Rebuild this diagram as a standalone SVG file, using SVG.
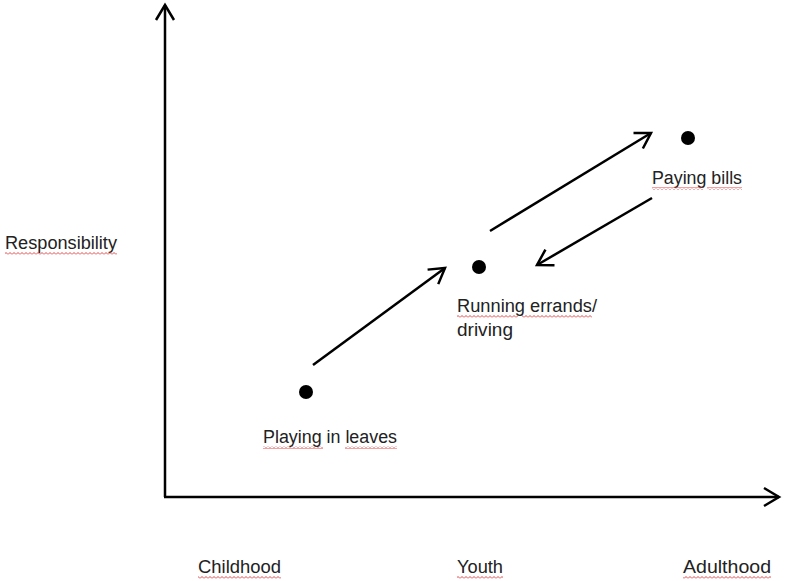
<svg xmlns="http://www.w3.org/2000/svg" width="785" height="581" viewBox="0 0 785 581">
<style>
.t{font-family:"Liberation Sans",Arial,sans-serif;font-size:18px;fill:#222}
.ln{stroke:#000;stroke-width:2.5;fill:none}
.sq{fill:url(#zig)}
</style>
<defs>
<pattern id="zig" patternUnits="userSpaceOnUse" width="4" height="3">
<path d="M0,2.5 L2,0.5 L4,2.5" stroke="#d33" stroke-width="0.9" fill="none"/>
</pattern>
<marker id="ah" markerUnits="userSpaceOnUse" markerWidth="24" markerHeight="24" viewBox="-18 -12 24 24" refX="0" refY="0" orient="auto" overflow="visible">
<path d="M-15,-9 L0,0 L-15,9" fill="none" stroke="#000" stroke-width="2.5"/>
</marker>
</defs>
<rect width="785" height="581" fill="#fff"/>
<g id="axes">
<path class="ln" d="M165,497 L165,5" marker-end="url(#ah)"/>
<path class="ln" d="M164,497 L779,497" marker-end="url(#ah)"/>
</g>
<g id="connectors">
<path class="ln" d="M313,365 L445,268" marker-end="url(#ah)"/>
<path class="ln" d="M490,231 L651,133" marker-end="url(#ah)"/>
<path class="ln" d="M652,198 L537,265" marker-end="url(#ah)"/>
</g>
<g id="node-childhood-point">
<circle cx="306" cy="392" r="7" fill="#000"/>
<text class="t" x="263" y="443" textLength="134" lengthAdjust="spacingAndGlyphs">Playing in leaves</text>
<rect class="sq" x="263" y="446" width="60" height="3"/>
<rect class="sq" x="345" y="446" width="52" height="3"/>
</g>
<g id="node-youth-point">
<circle cx="479" cy="267" r="7" fill="#000"/>
<text class="t" x="457" y="312" textLength="140" lengthAdjust="spacingAndGlyphs">Running errands/</text>
<text class="t" x="457" y="336" textLength="56" lengthAdjust="spacingAndGlyphs">driving</text>
<rect class="sq" x="457" y="315" width="61" height="3"/>
<rect class="sq" x="522" y="315" width="70" height="3"/>
</g>
<g id="node-adult-point">
<circle cx="688" cy="138" r="7" fill="#000"/>
<text class="t" x="652" y="184" textLength="90" lengthAdjust="spacingAndGlyphs">Paying bills</text>
<rect class="sq" x="652" y="187" width="51" height="3"/>
<rect class="sq" x="707" y="187" width="35" height="3"/>
</g>
<g id="label-responsibility">
<text class="t" x="5" y="249" textLength="112" lengthAdjust="spacingAndGlyphs">Responsibility</text>
<rect class="sq" x="5" y="252" width="112" height="3"/>
</g>
<g id="label-childhood">
<text class="t" x="198" y="573" textLength="83" lengthAdjust="spacingAndGlyphs">Childhood</text>
<rect class="sq" x="198" y="576" width="83" height="3"/>
</g>
<g id="label-youth">
<text class="t" x="457" y="573" textLength="46" lengthAdjust="spacingAndGlyphs">Youth</text>
<rect class="sq" x="457" y="576" width="46" height="3"/>
</g>
<g id="label-adulthood">
<text class="t" x="683" y="573" textLength="88" lengthAdjust="spacingAndGlyphs">Adulthood</text>
<rect class="sq" x="683" y="576" width="88" height="3"/>
</g>
</svg>
